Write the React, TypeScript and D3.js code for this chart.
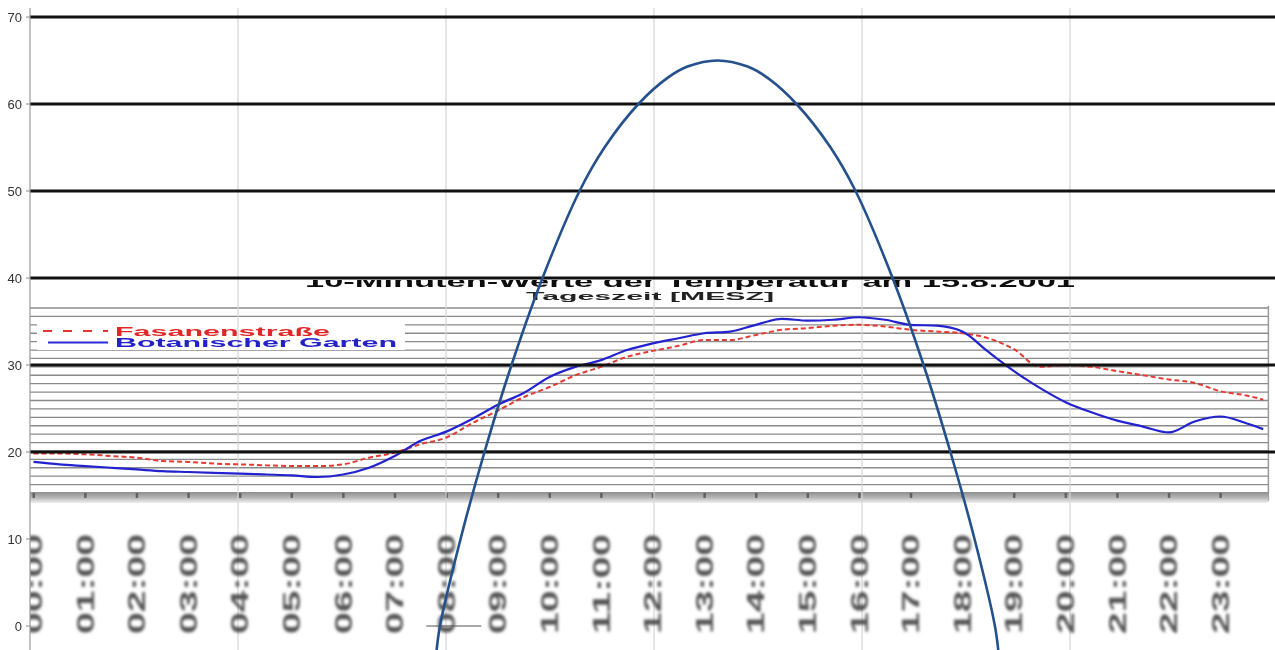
import React from 'react';
import * as d3 from 'd3';

const W = 1275;
const H = 650;

// ---------- outer chart ----------
const yTicks = [0, 10, 20, 30, 40, 50, 60, 70];
const thickGridValues = [20, 30, 40, 50, 60, 70];
const verticalGridUnits = [1, 2, 3, 4, 5];
const curveX = [1.954, 1.971, 2.07, 2.185, 2.315, 2.464, 2.642, 2.762, 2.925, 3.065, 3.161, 3.305, 3.45, 3.546, 3.685, 3.849, 3.969, 4.147, 4.296, 4.425, 4.541, 4.639, 4.656];
const curveY = [-3, 0, 10, 20, 30, 40, 50, 55, 60, 63, 64.3, 65, 64.3, 63, 60, 55, 50, 40, 30, 20, 10, 0, -3];

// ---------- embedded temperature chart ----------
const chartTitle = '10-Minuten-Werte der Temperatur am 15.8.2001';
const axisTitle = 'Tageszeit [MESZ]';
const seriesNames = ['Fasanenstraße', 'Botanischer Garten'];
const hourLabels = ['00:00', '01:00', '02:00', '03:00', '04:00', '05:00', '06:00', '07:00', '08:00', '09:00', '10:00', '11:00', '12:00', '13:00', '14:00', '15:00', '16:00', '17:00', '18:00', '19:00', '20:00', '21:00', '22:00', '23:00'];
const hourTicks = [0, 1, 2, 3, 4, 5, 6, 7, 8, 9, 10, 11, 12, 13, 14, 15, 16, 17, 18, 19, 20, 21, 22, 23];
const innerGridValues = [16, 17, 18, 19, 20, 21, 22, 23, 24, 25, 26, 27, 28, 29, 30, 31, 32, 33, 34, 35, 36, 37];
const times = [0, 0.5, 1, 1.5, 2, 2.5, 3, 3.5, 4, 4.5, 5, 5.5, 6, 6.5, 7, 7.5, 8, 8.5, 9, 9.5, 10, 10.5, 11, 11.5, 12, 12.5, 13, 13.5, 14, 14.5, 15, 15.5, 16, 16.5, 17, 17.5, 18, 18.5, 19, 19.5, 20, 20.5, 21, 21.5, 22, 22.5, 23, 23.5, 23.83];
const botanischerGarten = [18.7, 18.4, 18.2, 18.0, 17.8, 17.6, 17.5, 17.4, 17.3, 17.2, 17.1, 16.9, 17.2, 18.0, 19.4, 21.2, 22.3, 23.8, 25.5, 26.9, 28.8, 30.0, 30.8, 32.0, 32.8, 33.4, 34.0, 34.2, 35.0, 35.7, 35.5, 35.6, 35.9, 35.6, 35.0, 34.9, 34.2, 31.8, 29.5, 27.5, 25.8, 24.6, 23.6, 22.9, 22.2, 23.5, 24.1, 23.3, 22.6];
const fasanenstrasse = [19.7, 19.7, 19.6, 19.4, 19.2, 18.8, 18.7, 18.5, 18.4, 18.3, 18.2, 18.2, 18.4, 19.2, 19.8, 20.8, 21.6, 23.3, 24.8, 26.4, 27.6, 29.0, 30.0, 31.2, 31.9, 32.5, 33.2, 33.2, 33.8, 34.4, 34.6, 34.9, 35.0, 34.8, 34.4, 34.2, 34.0, 33.4, 32.1, 30.0, 30.2, 30.0, 29.5, 29.0, 28.5, 28.1, 27.1, 26.6, 26.1];

export default function App() {
  const xO = d3.scaleLinear().domain([0, 6]).range([30, 1278]);
  const yO = d3.scaleLinear().domain([0, 70]).range([626, 17]);
  const xI = d3.scaleLinear().domain([0, 24]).range([33.5, 1272]);
  const yI = d3.scaleLinear().domain([15, 37]).range([493, 308]);

  const curvePts = curveX.map((x, i) => [x, curveY[i]] as [number, number]);
  const curvePath = d3
    .line<[number, number]>()
    .x((d) => xO(d[0]))
    .y((d) => yO(d[1]))
    .curve(d3.curveCatmullRom.alpha(0.5))(curvePts) as string;

  const seriesLine = (vals: number[]) =>
    d3
      .line<number>()
      .x((_, i) => xI(times[i]))
      .y((d) => yI(d))
      .curve(d3.curveMonotoneX)(vals) as string;

  const innerLeft = 30;
  const innerRight = xI(23.93);

  return (
    <svg width={W} height={H} style={{ position: 'absolute', left: 0, top: 0, background: '#fff' }}>
      <defs>
        <filter id="soft" x="-10%" y="-10%" width="120%" height="120%">
          <feGaussianBlur stdDeviation="0.6" />
        </filter>
        <filter id="softer" x="-20%" y="-10%" width="140%" height="120%">
          <feGaussianBlur stdDeviation="1.5" />
        </filter>
        <linearGradient id="band" x1="0" y1="0" x2="0" y2="1">
          <stop offset="0" stopColor="#8e8e8e" />
          <stop offset="0.5" stopColor="#b5b5b5" />
          <stop offset="1" stopColor="#f0f0f0" />
        </linearGradient>
        <clipPath id="titleClip">
          <rect x={0} y={280} width={W} height={10} />
        </clipPath>
        <clipPath id="innerClip">
          <rect x={innerLeft} y={0} width={W - innerLeft} height={H} />
        </clipPath>
      </defs>
      <rect x={0} y={0} width={W} height={H} fill="#fff" />

      {/* embedded chart: horizontal fine grid */}
      <g clipPath="url(#innerClip)">
        {innerGridValues.map((v) => (
          <line key={'ig' + v} x1={innerLeft} x2={innerRight} y1={yI(v)} y2={yI(v)} stroke="#8a8a8a" strokeWidth={1.3} />
        ))}
        <line x1={innerRight} x2={innerRight} y1={yI(37) - 2} y2={yI(15) + 8} stroke="#9a9a9a" strokeWidth={1.5} />
        <rect x={innerLeft} y={yI(15) - 1} width={innerRight - innerLeft} height={11} fill="url(#band)" />
        {hourTicks.map((h) => (
          <rect key={'tk' + h} x={xI(h) - 1} y={yI(15)} width={2.5} height={5} fill="#444" opacity={0.7} filter="url(#soft)" />
        ))}

        {/* legend box */}
        <rect x={37} y={319} width={368} height={31} fill="#fff" />
      </g>

      {/* outer vertical grid */}
      {verticalGridUnits.map((u) => (
        <line key={'vg' + u} x1={xO(u)} x2={xO(u)} y1={8} y2={H} stroke="#d6d6d6" strokeWidth={1.2} />
      ))}

      {/* embedded chart titles */}
      <g filter="url(#soft)">
        <text
          x={305}
          y={287}
          textLength={770}
          lengthAdjust="spacingAndGlyphs"
          clipPath="url(#titleClip)"
          fontFamily="Liberation Sans, Arial, sans-serif"
          fontWeight="bold"
          fontSize={16}
          fill="#111"
        >
          {chartTitle}
        </text>
        <text
          x={526}
          y={300}
          textLength={248}
          lengthAdjust="spacingAndGlyphs"
          fontFamily="Liberation Sans, Arial, sans-serif"
          fontWeight="bold"
          fontSize={10.5}
          fill="#222"
        >
          {axisTitle}
        </text>
        {/* legend */}
        <line x1={43} x2={108} y1={331} y2={331} stroke="#e53030" strokeWidth={2} strokeDasharray="9,11" />
        <text x={115} y={335.5} textLength={215} lengthAdjust="spacingAndGlyphs" fontFamily="Liberation Sans, Arial, sans-serif" fontWeight="bold" fontSize={12} fill="#e02828">
          {seriesNames[0]}
        </text>
        <line x1={48} x2={108} y1={342.5} y2={342.5} stroke="#2b2bd6" strokeWidth={2} />
        <text x={115} y={347} textLength={282} lengthAdjust="spacingAndGlyphs" fontFamily="Liberation Sans, Arial, sans-serif" fontWeight="bold" fontSize={12} fill="#2424c8">
          {seriesNames[1]}
        </text>
      </g>

      {/* hour labels */}
      <g clipPath="url(#innerClip)" filter="url(#softer)">
        {hourLabels.map((lab, i) => (
          <text
            key={lab}
            transform={`translate(${xI(hourTicks[i])},584) rotate(-90)`}
            textAnchor="middle"
            dominantBaseline="central"
            textLength={100}
            lengthAdjust="spacingAndGlyphs"
            fontFamily="Liberation Sans, Arial, sans-serif"
            fontWeight="bold"
            fontSize={24}
            fill="#555"
          >
            {lab}
          </text>
        ))}
      </g>

      {/* temperature series */}
      <path d={seriesLine(fasanenstrasse)} fill="none" stroke="#e43a32" strokeWidth={2} strokeDasharray="5,3" />
      <path d={seriesLine(botanischerGarten)} fill="none" stroke="#2222d0" strokeWidth={2.2} />

      {/* outer thick grid */}
      {thickGridValues.map((v) => (
        <line key={'tg' + v} x1={30} x2={W} y1={yO(v)} y2={yO(v)} stroke="#111" strokeWidth={3.2} />
      ))}
      <line x1={xO(1.905)} x2={xO(2.17)} y1={yO(0)} y2={yO(0)} stroke="#555" strokeWidth={1.2} />

      {/* y axis */}
      <line x1={30} x2={30} y1={8} y2={H} stroke="#9a9a9a" strokeWidth={1.2} />
      {yTicks.map((v) => (
        <g key={'yt' + v}>
          <line x1={26} x2={30} y1={yO(v)} y2={yO(v)} stroke="#888" strokeWidth={1} />
          <text
            x={22}
            y={yO(v)}
            textAnchor="end"
            dominantBaseline="central"
            fontFamily="Liberation Sans Narrow, Arial Narrow, Liberation Sans, sans-serif"
            fontSize={13}
            fill="#333"
          >
            {v}
          </text>
        </g>
      ))}

      {/* parabola */}
      <path d={curvePath} fill="none" stroke="#24508c" strokeWidth={2.6} />
    </svg>
  );
}
